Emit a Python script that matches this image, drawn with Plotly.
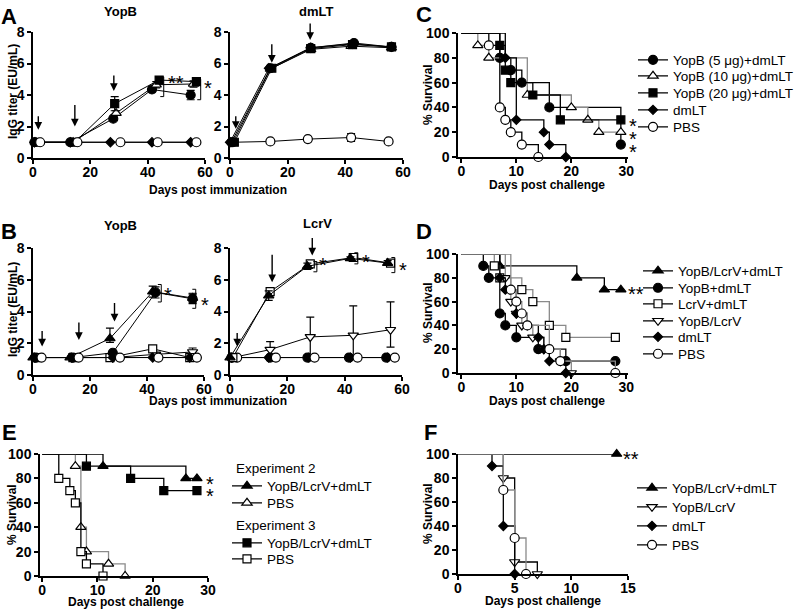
import plotly.graph_objects as go

W, H = 800, 611
FONT = "Arial"

# ── A: IgG titers, groups = YopB 5/10/20 μg + dmLT, dmLT, PBS ───────────────
A_YOPB_DAY = [
    [0.5, 13, 28, 41.5, 55],
    [1, 14, 29, 43, 56],
    [1.5, 14.5, 28.5, 44, 57],
    [0.5, 13, 27, 41.5, 55],
    [2.5, 15.5, 30.5, 43.5, 57],
]
A_YOPB_TITER = [
    [1.0, 1.0, 2.5, 4.35, 4.0],
    [1.0, 1.0, 2.85, 4.65, 4.7],
    [1.0, 1.0, 3.45, 4.95, 4.85],
    [1.0, 1.0, 1.0, 1.0, 1.0],
    [1.0, 1.0, 1.0, 1.0, 1.0],
]
A_YOPB_SEM = [
    [0, 0, 0.1, 0.15, 0.3],
    [0, 0, 0.15, 0.2, 0.2],
    [0, 0, 0.45, 0.15, 0.2],
    [0, 0, 0, 0, 0],
    [0, 0, 0, 0, 0],
]
A_DMLT_DAY = [
    [0.5, 14, 28, 43, 56],
    [1, 14, 28, 42, 56],
    [1.5, 14.5, 28, 42.5, 56],
    [0, 13.5, 28, 42.5, 56],
    [1, 14, 27, 42, 55],
]
A_DMLT_TITER = [
    [1.0, 5.7, 7.0, 7.3, 7.05],
    [1.0, 5.65, 6.9, 7.1, 7.0],
    [1.0, 5.7, 6.95, 7.2, 7.05],
    [1.0, 5.7, 7.0, 7.25, 7.05],
    [1.0, 1.05, 1.2, 1.3, 1.05],
]
A_DMLT_SEM = [
    [0, 0, 0, 0, 0],
    [0, 0, 0, 0, 0],
    [0, 0, 0, 0, 0],
    [0, 0, 0, 0, 0],
    [0, 0, 0, 0.25, 0],
]

# ── B: IgG titers, groups = YopB/LcrV+dmLT, YopB+dmLT, LcrV+dmLT, YopB/LcrV, dmLT, PBS
B_YOPB_DAY = [
    [0, 13, 27, 42, 56],
    [1, 14, 28, 43, 56],
    [1, 14, 27, 42, 55],
    [1, 14, 28, 43, 56],
    [0.5, 13.5, 28, 42, 55],
    [3, 16, 30.5, 44, 57.5],
]
B_YOPB_TITER = [
    [1.1, 1.1, 2.3, 5.25, 4.85],
    [1.1, 1.1, 1.4, 5.2, 4.8],
    [1.1, 1.1, 1.1, 1.65, 1.1],
    [1.1, 1.1, 1.1, 1.3, 1.45],
    [1.1, 1.1, 1.1, 1.1, 1.1],
    [1.1, 1.1, 1.1, 1.1, 1.1],
]
B_YOPB_SEM_UP = [
    [0, 0, 0.65, 0.35, 0.3],
    [0, 0, 0.1, 0.35, 0.3],
    [0, 0, 0, 0.1, 0],
    [0, 0, 0, 0.1, 0.25],
    [0, 0, 0, 0, 0],
    [0, 0, 0, 0, 0],
]
B_YOPB_SEM_DN = [
    [0, 0, 0.25, 0.35, 0.3],
    [0, 0, 0.1, 0.35, 0.3],
    [0, 0, 0, 0.1, 0],
    [0, 0, 0, 0.1, 0.25],
    [0, 0, 0, 0, 0],
    [0, 0, 0, 0, 0],
]
B_LCRV_DAY = [
    [0, 13.5, 27, 42, 55],
    [0.5, 14, 27, 41.5, 54.5],
    [1, 14, 28, 43, 56],
    [1, 14, 28, 43, 56],
    [0.5, 13.5, 27.5, 42, 55],
    [2.5, 16, 29.5, 44.5, 57.5],
]
B_LCRV_TITER = [
    [1.1, 5.0, 6.85, 7.35, 7.05],
    [1.1, 1.1, 1.1, 1.1, 1.1],
    [1.1, 5.25, 7.0, 7.4, 7.05],
    [1.1, 1.6, 2.4, 2.5, 2.85],
    [1.1, 1.1, 1.1, 1.1, 1.1],
    [1.1, 1.1, 1.1, 1.1, 1.1],
]
B_LCRV_SEM_UP = [
    [0, 0.3, 0.2, 0.1, 0.15],
    [0, 0, 0, 0, 0],
    [0, 0.2, 0.15, 0.1, 0.15],
    [0, 0.5, 1.25, 1.85, 1.75],
    [0, 0, 0, 0, 0],
    [0, 0, 0, 0, 0],
]
B_LCRV_SEM_DN = [
    [0, 0.3, 0.2, 0.1, 0.15],
    [0, 0, 0, 0, 0],
    [0, 0.2, 0.15, 0.1, 0.15],
    [0, 0.4, 1.2, 1.4, 1.1],
    [0, 0, 0, 0, 0],
    [0, 0, 0, 0, 0],
]

# ── C–F: Kaplan-Meier survival (day of each drop, % surviving after it) ─────
C_NAMES = ["YopB (5 μg)+dmLT", "YopB (10 μg)+dmLT", "YopB (20 μg)+dmLT", "dmLT", "PBS"]
C_DAYS = [
    [0, 7, 9, 11, 16, 29],
    [0, 3, 5, 12, 20, 23, 25, 29],
    [0, 7, 8, 9, 13, 18, 29],
    [0, 8, 10, 15, 16, 19],
    [0, 5, 7, 8, 9, 11, 14],
]
C_SURV = [
    [100, 80, 70, 60, 40, 10],
    [100, 90, 80, 50, 40, 30, 20, 20],
    [100, 90, 70, 60, 50, 30, 30],
    [100, 80, 30, 20, 10, 0],
    [100, 90, 40, 30, 20, 10, 0],
]

D_NAMES = ["YopB/LcrV+dmLT", "YopB+dmLT", "LcrV+dmLT", "YopB/LcrV", "dmLT", "PBS"]
D_DAYS = [
    [0, 7, 21, 26, 29],
    [0, 4, 5, 7, 8, 10, 14, 19, 28],
    [0, 6, 7, 11, 13, 16, 19, 28],
    [0, 8, 9, 10, 11, 13, 15, 18, 20],
    [0, 7, 8, 10, 12, 14, 15, 16, 19],
    [0, 9, 10, 11, 12, 16, 18, 28],
]
D_SURV = [
    [100, 90, 80, 70, 70],
    [100, 90, 80, 50, 40, 30, 20, 10, 10],
    [100, 90, 80, 70, 60, 40, 30, 30],
    [100, 80, 60, 50, 40, 30, 20, 10, 0],
    [100, 80, 70, 50, 40, 30, 20, 10, 0],
    [100, 70, 60, 50, 40, 20, 10, 0],
]

E_NAMES = ["YopB/LcrV+dmLT", "PBS", "YopB/LcrV+dmLT", "PBS"]
E_DAYS = [
    [0, 11, 26, 28],
    [0, 6, 7, 8, 12, 15],
    [0, 8, 16, 22, 28],
    [0, 3, 5, 6, 7, 8, 11],
]
E_SURV = [
    [100, 90, 80, 80],
    [100, 90, 40, 20, 10, 0],
    [100, 90, 80, 70, 70],
    [100, 80, 70, 60, 20, 10, 0],
]

F_NAMES = ["YopB/LcrV+dmLT", "YopB/LcrV", "dmLT", "PBS"]
F_DAYS = [[0, 14], [0, 4, 5, 7], [0, 3, 4, 5], [0, 4, 5, 6]]
F_SURV = [[100, 100], [100, 80, 10, 0], [100, 90, 40, 0], [100, 70, 30, 0]]

# ── styles ──────────────────────────────────────────────────────────────────
_BLACK = "black"
_GREY = "#8a8a8a"
DOT = ("circle", _BLACK, 9)
ODOT = ("circle", "white", 9)
TRI = ("triangle-up", _BLACK, 9)
OTRI = ("triangle-up", "white", 9)
OTRI_DN = ("triangle-down", "white", 9)
SQR = ("square", _BLACK, 8)
OSQR = ("square", "white", 8)
DIA = ("diamond", _BLACK, 7)

A_STYLE = [DOT, OTRI, SQR, DIA, ODOT]
B_STYLE = [TRI, DOT, OSQR, OTRI_DN, DIA, ODOT]
C_STYLE = [DOT, OTRI, SQR, DIA, ODOT]
D_STYLE = [TRI, DOT, OSQR, OTRI_DN, DIA, ODOT]
E_STYLE = [TRI, OTRI, SQR, OSQR]
F_STYLE = [TRI, OTRI_DN, DIA, ODOT]
C_LINE = [_BLACK, _GREY, _BLACK, _BLACK, _BLACK]
D_LINE = [_BLACK, _BLACK, _GREY, _GREY, _BLACK, _GREY]
E_LINE = [_BLACK, _GREY, _BLACK, _BLACK]
F_LINE = [_BLACK, _BLACK, _BLACK, _GREY]


def _px(x):
    return x / W


def _py(y):
    return 1 - y / H


def _marker(style):
    sym, fill, size = style
    return dict(symbol=sym, color=fill, size=size, line=dict(color=_BLACK, width=1.2))


def _ax(n):
    return ("x", "y") if n == 1 else (f"x{n}", f"y{n}")


fig = go.Figure()


def titer_panel(n, days, titers, up, dn, styles, order):
    xa, ya = _ax(n)
    for i in order:
        fig.add_trace(go.Scatter(
            x=days[i], y=titers[i], xaxis=xa, yaxis=ya,
            mode="lines+markers",
            line=dict(color=_BLACK, width=1),
            marker=_marker(styles[i]),
            error_y=dict(type="data", array=up[i], arrayminus=dn[i],
                         color=_BLACK, thickness=1.2, width=4),
            cliponaxis=False, showlegend=False, hoverinfo="skip",
        ))


def survival_panel(n, days, surv, styles, colors):
    xa, ya = _ax(n)
    for i in range(len(days)):
        fig.add_trace(go.Scatter(
            x=days[i], y=surv[i], xaxis=xa, yaxis=ya,
            mode="lines", line=dict(color=colors[i], width=1.3, shape="hv"),
            cliponaxis=False, showlegend=False, hoverinfo="skip",
        ))
        fig.add_trace(go.Scatter(
            x=days[i][1:], y=surv[i][1:], xaxis=xa, yaxis=ya,
            mode="markers", marker=_marker(styles[i]),
            cliponaxis=False, showlegend=False, hoverinfo="skip",
        ))


_legends = {}


def legend_entry(n, name, style, text_left, row_y):
    """One legend per row so the row spacing matches the original figure."""
    k = len(_legends) + 1
    lid = "legend" if k == 1 else f"legend{k}"
    _legends[lid] = dict(
        x=_px(text_left - 40), y=_py(row_y), xanchor="left", yanchor="middle",
        bgcolor="rgba(0,0,0,0)", borderwidth=0,
        font=dict(family=FONT, size=13.5, color=_BLACK),
    )
    xa, ya = _ax(n)
    fig.add_trace(go.Scatter(
        x=[None], y=[None], xaxis=xa, yaxis=ya, name=name, legend=lid,
        mode="lines+markers", line=dict(color=_BLACK, width=1.3),
        marker=_marker(style), showlegend=True, hoverinfo="skip",
    ))


titer_panel(1, A_YOPB_DAY, A_YOPB_TITER, A_YOPB_SEM, A_YOPB_SEM, A_STYLE, [0, 1, 2, 3, 4])
titer_panel(2, A_DMLT_DAY, A_DMLT_TITER, A_DMLT_SEM, A_DMLT_SEM, A_STYLE, [4, 3, 1, 2, 0])
titer_panel(3, B_YOPB_DAY, B_YOPB_TITER, B_YOPB_SEM_UP, B_YOPB_SEM_DN, B_STYLE, [3, 2, 0, 1, 4, 5])
titer_panel(4, B_LCRV_DAY, B_LCRV_TITER, B_LCRV_SEM_UP, B_LCRV_SEM_DN, B_STYLE, [3, 1, 4, 5, 2, 0])

survival_panel(5, C_DAYS, C_SURV, C_STYLE, C_LINE)
survival_panel(6, D_DAYS, D_SURV, D_STYLE, D_LINE)
survival_panel(7, E_DAYS, E_SURV, E_STYLE, E_LINE)
survival_panel(8, F_DAYS, F_SURV, F_STYLE, F_LINE)

for name, st, y in zip(C_NAMES, C_STYLE, [60, 76, 93, 110, 127]):
    legend_entry(5, name, st, 673, y)
for name, st, y in zip(D_NAMES, D_STYLE, [271, 288, 304, 321, 337, 354]):
    legend_entry(6, name, st, 678, y)
for name, st, y in zip(E_NAMES, E_STYLE, [486, 503, 543, 559]):
    legend_entry(7, name, st, 267, y)
for name, st, y in zip(F_NAMES, F_STYLE, [488, 507, 526, 545]):
    legend_entry(8, name, st, 672, y)

# ── axes (pixel boxes taken from the original layout) ──────────────────────
TICK_FONT = dict(family=FONT, size=14, color=_BLACK, weight="bold")


def _axis(lo, hi, rng, dtick, anchor, vertical=False):
    dom = [_py(hi), _py(lo)] if vertical else [_px(lo), _px(hi)]
    return dict(
        domain=dom, range=rng, dtick=dtick, tick0=0, anchor=anchor,
        showline=True, linecolor=_BLACK, linewidth=1.5,
        ticks="outside", ticklen=4, tickwidth=1.5, tickcolor=_BLACK,
        ticklabelstandoff=0 if vertical else -4,
        showgrid=False, zeroline=False, tickfont=TICK_FONT, fixedrange=True,
    )


PANELS = {
    1: ((33, 205), (32, 158), [0, 60], 20, [0, 8], 2),
    2: ((230, 403), (32, 158), [0, 60], 20, [0, 8], 2),
    3: ((33, 204), (248, 375), [0, 60], 20, [0, 8], 2),
    4: ((230, 402), (248, 375), [0, 60], 20, [0, 8], 2),
    5: ((458, 628), (33, 157), [-0.6, 30.3], 10, [0, 100], 20),
    6: ((458, 628), (254, 373), [-0.6, 30.3], 10, [0, 100], 20),
    7: ((40, 208), (454, 576), [-0.4, 30], 10, [0, 100], 20),
    8: ((458, 628), (454, 574), [0, 15], 5, [0, 100], 20),
}
axes = {}
for n, ((x0, x1), (y0, y1), xr, xd, yr, yd) in PANELS.items():
    xa, ya = _ax(n)
    axes["xaxis" if n == 1 else f"xaxis{n}"] = _axis(x0, x1, xr, xd, ya)
    axes["yaxis" if n == 1 else f"yaxis{n}"] = _axis(y0, y1, yr, yd, xa, vertical=True)

# ── immunization arrows: (panel, day, tip height, length px) ────────────────
ARROWS = [
    (1, 1.85, 1.8, 15), (1, 14.6, 2.0, 23), (1, 28.2, 4.25, 17),
    (2, 2.0, 1.85, 14), (2, 14.5, 6.05, 20), (2, 27.8, 7.5, 18),
    (3, 3.2, 1.8, 17), (3, 16.1, 2.2, 19), (3, 28.6, 3.37, 20),
    (4, 2.5, 1.8, 15), (4, 14.7, 5.84, 29), (4, 28.7, 7.53, 19),
]
for n, d, tip, ln in ARROWS:
    xa, ya = _ax(n)
    fig.add_annotation(x=d, y=tip, xref=xa, yref=ya, ax=0, ay=-ln, text="",
                       showarrow=True, arrowhead=2, arrowsize=1.1, arrowwidth=1.4,
                       arrowcolor=_BLACK, standoff=0)

# ── significance brackets and stars ────────────────────────────────────────
BRACKETS = [  # panel, x, y_low, y_high, tick width (days)
    (1, 45.6, 3.9, 5.15, 1.2), (1, 58.5, 3.7, 5.0, 1.2),
    (3, 45.0, 4.6, 5.7, 1.2), (3, 57.1, 4.2, 5.4, 1.2),
    (4, 30.3, 6.5, 7.15, 1.2), (4, 44.6, 7.0, 7.7, 1.2), (4, 57.5, 6.45, 7.4, 1.2),
]
for n, x, lo, hi, w in BRACKETS:
    xa, ya = _ax(n)
    fig.add_shape(type="path", xref=xa, yref=ya,
                  path=f"M{x - w},{lo} L{x},{lo} L{x},{hi} L{x - w},{hi}",
                  line=dict(color=_BLACK, width=1))

STARS = [  # text, pixel centre of the glyph in the page
    ("**", 176, 78), ("*", 208, 83),
    ("*", 168, 290), ("*", 205, 300),
    ("*", 323, 260), ("*", 366, 257), ("*", 403, 265),
    ("*", 633, 121), ("*", 633, 134), ("*", 633, 147),
    ("**", 636, 289),
    ("*", 210, 479), ("*", 210, 491),
    ("**", 631, 454),
]
for t, x, y in STARS:
    fig.add_annotation(x=_px(x), y=_py(y + 5), xref="paper", yref="paper",
                       xanchor="center", yanchor="middle",
                       text=t, showarrow=False,
                       font=dict(family=FONT, size=20, color=_BLACK))


def label(text, x, y, size=12, bold=True, angle=0, xanchor="center"):
    fig.add_annotation(text=text, x=_px(x), y=_py(y), xref="paper", yref="paper",
                       showarrow=False, textangle=angle, xanchor=xanchor,
                       yanchor="middle",
                       font=dict(family=FONT, size=size, color=_BLACK,
                                 weight="bold" if bold else "normal"))


for t, x, y in [("A", 9, 16), ("B", 9, 231), ("C", 424, 14),
                ("D", 424, 231), ("E", 9, 432), ("F", 430, 432)]:
    label(t, x, y, size=22)

label("YopB", 120, 12, size=13)
label("dmLT", 316, 12, size=13)
label("YopB", 120, 225, size=13)
label("LcrV", 317, 223, size=13)

label("IgG titer (EU/mL)", 13, 92, angle=-90)
label("IgG titer (EU/mL)", 13, 310, angle=-90)
label("Days post immunization", 218, 190)
label("Days post immunization", 218, 401)

label("% Survival", 428, 95, angle=-90)
label("% Survival", 428, 313, angle=-90)
label("% Survival", 12, 515, angle=-90)
label("% Survival", 428, 514, angle=-90)
label("Days post challenge", 547, 185)
label("Days post challenge", 547, 401)
label("Days post challenge", 126, 602)
label("Days post challenge", 543, 601)

label("Experiment 2", 234, 468, size=13.5, bold=False, xanchor="left")
label("Experiment 3", 234, 525, size=13.5, bold=False, xanchor="left")

fig.update_layout(
    template="none",
    width=W, height=H, autosize=False,
    margin=dict(l=0, r=0, t=0, b=0),
    paper_bgcolor="white", plot_bgcolor="rgba(0,0,0,0)",
    font=dict(family=FONT, color=_BLACK),
    hovermode=False,
    **axes, **_legends,
)

# the page's default 8px body margin would shift the whole figure
fig.write_html("out.html", config={"displayModeBar": False},
               post_script="document.body.style.margin = '0';")
